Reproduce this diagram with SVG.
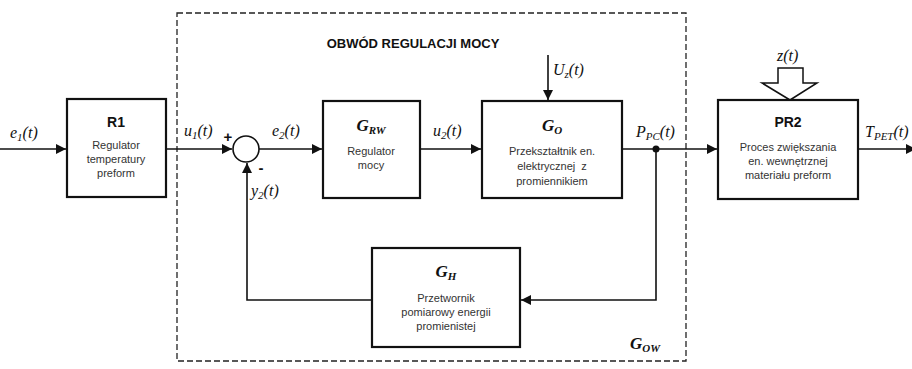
<svg xmlns="http://www.w3.org/2000/svg" width="912" height="369" viewBox="0 0 912 369">
<style>
.box{fill:#fff;stroke:#111;stroke-width:2.2}
.ln{fill:none;stroke:#111;stroke-width:1.6}
.dash{fill:none;stroke:#222;stroke-width:1.3;stroke-dasharray:6,3}
.t{font-family:"Liberation Sans",Arial,sans-serif;font-size:11px;fill:#333;text-anchor:middle}
.tb{font-family:"Liberation Sans",Arial,sans-serif;font-size:14px;font-weight:bold;fill:#111;text-anchor:middle}
.ob{font-family:"Liberation Sans",Arial,sans-serif;font-size:13px;font-weight:bold;fill:#111;text-anchor:middle}
.m{font-family:"Liberation Serif","Times New Roman",serif;font-size:16px;font-style:italic;fill:#111}
.g{font-family:"Liberation Serif","Times New Roman",serif;font-size:17px;font-style:italic;font-weight:bold;fill:#111;text-anchor:middle}
.sub{font-size:11px}
.pm{font-family:"Liberation Sans",Arial,sans-serif;font-size:15px;font-weight:bold;fill:#111;text-anchor:middle}
</style>
<defs>
<marker id="ar" viewBox="0 0 10 10" refX="10" refY="5" markerWidth="10" markerHeight="10" markerUnits="userSpaceOnUse" orient="auto">
<path d="M0,0 L10,5 L0,10 z" fill="#111"/>
</marker>
</defs>
<rect width="912" height="369" fill="#fff"/>
<rect class="dash" x="177" y="13" width="509" height="348"/>
<text class="ob" x="413" y="48">OBWÓD REGULACJI MOCY</text>
<g id="connectors">
<line class="ln" x1="0" y1="149" x2="66" y2="149" marker-end="url(#ar)"/>
<line class="ln" x1="166" y1="149" x2="232" y2="149" marker-end="url(#ar)"/>
<line class="ln" x1="259" y1="149" x2="322" y2="149" marker-end="url(#ar)"/>
<line class="ln" x1="420" y1="149" x2="481" y2="149" marker-end="url(#ar)"/>
<line class="ln" x1="548" y1="55" x2="548" y2="100" marker-end="url(#ar)"/>
<line class="ln" x1="622" y1="149" x2="717" y2="149" marker-end="url(#ar)"/>
<line class="ln" x1="858" y1="149" x2="916" y2="149" marker-end="url(#ar)"/>
<polyline class="ln" points="656,149 656,300 521,300" marker-end="url(#ar)"/>
<polyline class="ln" points="372,300 247,300 247,163" marker-end="url(#ar)"/>
<circle cx="656" cy="149" r="3.5" fill="#111"/>
<path d="M778,68 L803,68 L803,83 L817,83 L790,100 L762,83 L778,83 Z" fill="#fff" stroke="#111" stroke-width="1.5"/>
</g>
<g id="sum">
<circle cx="246" cy="149" r="13" fill="#fff" stroke="#111" stroke-width="1.6"/>
<text class="pm" x="228" y="142">+</text>
<text class="pm" x="261" y="173">-</text>
</g>
<g id="R1">
<rect class="box" x="67" y="99" width="99" height="98"/>
<text class="tb" x="116" y="127">R1</text>
<text class="t" x="116" y="149">Regulator</text>
<text class="t" x="116" y="163">temperatury</text>
<text class="t" x="116" y="177">preform</text>
</g>
<g id="GRW">
<rect class="box" x="323" y="101" width="97" height="97"/>
<text class="g" x="371" y="131">G<tspan class="sub" dy="3">RW</tspan></text>
<text class="t" x="371" y="155">Regulator</text>
<text class="t" x="371" y="169">mocy</text>
</g>
<g id="GO">
<rect class="box" x="482" y="101" width="140" height="97"/>
<text class="g" x="552" y="131">G<tspan class="sub" dy="3">O</tspan></text>
<text class="t" x="552" y="155">Przekształtnik en.</text>
<text class="t" x="552" y="170" xml:space="preserve">elektrycznej  z</text>
<text class="t" x="552" y="185">promiennikiem</text>
</g>
<g id="PR2">
<rect class="box" x="718" y="100" width="140" height="99"/>
<text class="tb" x="788" y="127">PR2</text>
<text class="t" x="788" y="151">Proces zwiększania</text>
<text class="t" x="788" y="165">en. wewnętrznej</text>
<text class="t" x="788" y="179">materiału preform</text>
</g>
<g id="GH">
<rect class="box" x="372" y="248" width="148" height="99"/>
<text class="g" x="446" y="277">G<tspan class="sub" dy="3">H</tspan></text>
<text class="t" x="446" y="302">Przetwornik</text>
<text class="t" x="446" y="316">pomiarowy energii</text>
<text class="t" x="446" y="330">promienistej</text>
</g>
<g id="labels">
<text class="m" x="10" y="138">e<tspan class="sub" dy="3">1</tspan><tspan dy="-3">(t)</tspan></text>
<text class="m" x="184" y="136">u<tspan class="sub" dy="3">1</tspan><tspan dy="-3">(t)</tspan></text>
<text class="m" x="272" y="136">e<tspan class="sub" dy="3">2</tspan><tspan dy="-3">(t)</tspan></text>
<text class="m" x="251" y="196">y<tspan class="sub" dy="3">2</tspan><tspan dy="-3">(t)</tspan></text>
<text class="m" x="433" y="136">u<tspan class="sub" dy="3">2</tspan><tspan dy="-3">(t)</tspan></text>
<text class="m" x="553" y="75">U<tspan class="sub" dy="3">z</tspan><tspan dy="-3">(t)</tspan></text>
<text class="m" x="636" y="137">P<tspan class="sub" dy="3">PC</tspan><tspan dy="-3">(t)</tspan></text>
<text class="m" x="777" y="61">z(t)</text>
<text class="m" x="865" y="137">T<tspan class="sub" dy="3">PET</tspan><tspan dy="-3">(t)</tspan></text>
<text class="g" x="645" y="349">G<tspan class="sub" dy="3">OW</tspan></text>
</g>
</svg>
